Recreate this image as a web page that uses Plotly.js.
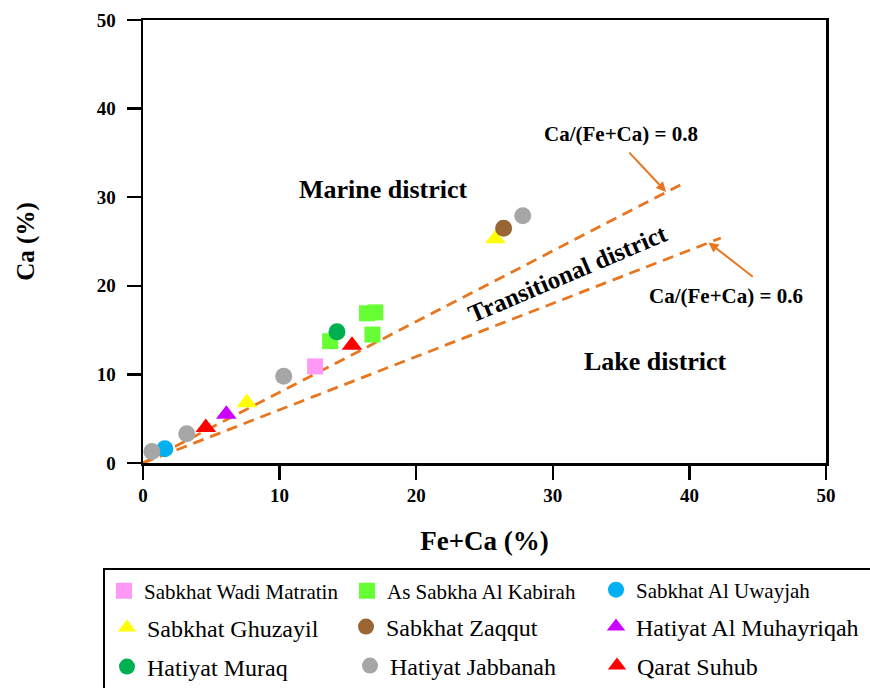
<!DOCTYPE html>
<html><head><meta charset="utf-8">
<script src="https://cdn.plot.ly/plotly-3.0.1.min.js"></script>
<style>html,body{margin:0;padding:0;background:#fff}#chart{width:870px;height:688px}</style>
</head><body><div id="chart"></div>
<script>
// ---- data ----
const seriesNames = ["Sabkhat Wadi Matratin","As Sabkha Al Kabirah","Sabkhat Al Uwayjah",
  "Sabkhat Ghuzayil","Sabkhat Zaqqut","Hatiyat Al Muhayriqah",
  "Hatiyat Muraq","Hatiyat Jabbanah","Qarat Suhub"];
const wadiX = [12.6], wadiY = [10.9];
const kabirahX = [13.7, 16.8, 16.4, 17.0], kabirahY = [13.75, 14.5, 16.9, 17.0];
const uwayjahX = [1.6], uwayjahY = [1.6];
const ghuzayilX = [7.6, 25.8], ghuzayilY = [6.8, 25.3];
const zaqqutX = [26.4], zaqqutY = [26.5];
const muhayriqahX = [6.1], muhayriqahY = [5.5];
const muraqX = [14.2], muraqY = [14.8];
const jabbanahX = [0.65, 3.2, 10.3, 27.8], jabbanahY = [1.3, 3.3, 9.8, 27.9];
const suhubX = [4.6, 15.3], suhubY = [4.0, 13.3];
const line08X = [0, 39.6], line08Y = [0, 31.6];
const line06X = [0, 42.3], line06Y = [0, 25.4];
const tickVals = [0, 10, 20, 30, 40, 50];

const FONT = '"Liberation Serif", "Times New Roman", serif';
const ORANGE = '#E8761E';

const seriesX = [wadiX, kabirahX, uwayjahX, ghuzayilX, zaqqutX, muhayriqahX, muraqX, jabbanahX, suhubX];
const seriesY = [wadiY, kabirahY, uwayjahY, ghuzayilY, zaqqutY, muhayriqahY, muraqY, jabbanahY, suhubY];
const colors = ['#FF99F5', '#66FF33', '#00B0F0', '#FFFF00', '#996633', '#CC00FF', '#00B050', '#A6A6A6', '#FF0000'];
const symbols = ['square', 'square', 'circle', 'triangle-up', 'circle', 'triangle-up', 'circle', 'circle', 'triangle-up'];
const sizes = [16, 16, 17, 18, 17, 18, 17, 17, 18];

// legend entry placement (pixels in the 870x688 page): one small legend per entry
const legendLeftPx = [104, 347, 596, 107, 346, 596, 107, 350, 597];
const legendMidPx  = [591, 591, 590, 628, 627, 627, 667, 666, 666];
const legendFontPx = [21, 21, 21, 24, 24, 24, 24, 24, 24];

const traces = [
  {x: line08X, y: line08Y, mode: 'lines', line: {color: ORANGE, width: 2.8, dash: '11px,7px'}, showlegend: false, hoverinfo: 'skip'},
  {x: line06X, y: line06Y, mode: 'lines', line: {color: ORANGE, width: 2.8, dash: '11px,7px'}, showlegend: false, hoverinfo: 'skip'}
];
const legendId = (i) => i === 0 ? 'legend' : 'legend' + (i + 1);
seriesNames.forEach((n, i) => {
  traces.push({
    x: seriesX[i], y: seriesY[i], name: n, mode: 'markers', type: 'scatter',
    legend: legendId(i), cliponaxis: false,
    marker: {color: colors[i], symbol: symbols[i], size: sizes[i], line: {width: 0}}
  });
});

const axisCommon = {
  range: [0, 50], tickvals: tickVals, showgrid: false, zeroline: false,
  showline: true, linecolor: '#000', linewidth: 2.5, mirror: true,
  ticks: 'outside', ticklen: 14, tickwidth: 2.5, tickcolor: '#000',
  tickfont: {family: FONT, size: 19, color: '#000', weight: 'bold'}
};

const annFont = (s) => ({family: FONT, size: s, color: '#000', weight: 'bold'});

const layout = {
  width: 870, height: 688,
  margin: {l: 143, r: 44, t: 20, b: 225},
  paper_bgcolor: '#fff', plot_bgcolor: '#fff',
  showlegend: true,
  xaxis: Object.assign({}, axisCommon, {
    title: {text: 'Fe+Ca (%)', font: {family: FONT, size: 27, color: '#000', weight: 'bold'}, standoff: 26}
  }),
  yaxis: Object.assign({}, axisCommon, {
    ticklabelstandoff: 7,
    title: {text: 'Ca (%)', font: {family: FONT, size: 25, color: '#000', weight: 'bold'}, standoff: 55}
  }),
  shapes: [
    {type: 'rect', xref: 'paper', yref: 'paper', x0: -0.0571, x1: 1.07, y0: -0.2393, y1: -0.53,
     line: {color: '#000', width: 2}, fillcolor: 'rgba(0,0,0,0)'}
  ],
  annotations: [
    {x: 17.6, y: 30.9, xref: 'x', yref: 'y', text: 'Marine district', showarrow: false, font: annFont(26)},
    {x: 31.1, y: 21.4, xref: 'x', yref: 'y', text: 'Transitional district', showarrow: false, textangle: -23, font: annFont(25)},
    {x: 37.5, y: 11.45, xref: 'x', yref: 'y', text: 'Lake district', showarrow: false, font: annFont(26)},
    {x: 35.0, y: 37.1, xref: 'x', yref: 'y', text: 'Ca/(Fe+Ca) = 0.8', showarrow: false, font: annFont(21)},
    {x: 42.7, y: 18.86, xref: 'x', yref: 'y', text: 'Ca/(Fe+Ca) = 0.6', showarrow: false, font: annFont(21)},
    {x: 38.3, y: 30.6, ax: 35.5, ay: 35.2, xref: 'x', yref: 'y', axref: 'x', ayref: 'y', text: '',
     showarrow: true, arrowhead: 2, arrowsize: 1, arrowwidth: 2, arrowcolor: ORANGE},
    {x: 41.4, y: 24.9, ax: 44.75, ay: 20.9, xref: 'x', yref: 'y', axref: 'x', ayref: 'y', text: '',
     showarrow: true, arrowhead: 2, arrowsize: 1, arrowwidth: 2, arrowcolor: ORANGE}
  ]
};
seriesNames.forEach((n, i) => {
  layout[legendId(i)] = {
    orientation: 'h', xref: 'container', yref: 'container',
    xanchor: 'left', yanchor: 'middle',
    x: legendLeftPx[i] / 870, y: 1 - legendMidPx[i] / 688,
    bgcolor: 'rgba(0,0,0,0)', borderwidth: 0,
    font: {family: FONT, size: legendFontPx[i], color: '#000'}
  };
});

Plotly.newPlot('chart', traces, layout, {displayModeBar: false, staticPlot: true});
</script>
</body></html>
